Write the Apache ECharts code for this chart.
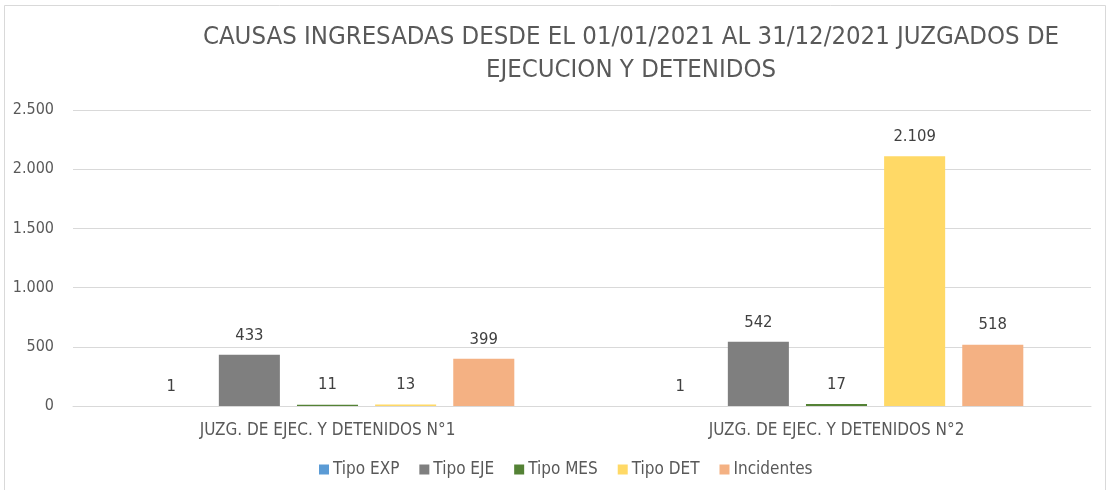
<!DOCTYPE html>
<html>
<head>
<meta charset="utf-8">
<script src="https://cdn.jsdelivr.net/npm/echarts@6/dist/echarts.min.js"></script>
<style>
  html, body { margin: 0; padding: 0; background: #fff; }
  #chart { width: 1113px; height: 490px; }
</style>
</head>
<body>
<div id="chart"></div>
<script>
// Juzgados and case counts per type, year 2021
const categories = ['JUZG. DE EJEC. Y DETENIDOS N°1', 'JUZG. DE EJEC. Y DETENIDOS N°2'];
const tipoEXP = [1, 1];
const tipoEJE = [433, 542];
const tipoMES = [11, 17];
const tipoDET = [13, 2109];
const incidentes = [399, 518];
const yTicks = [0, 500, 1000, 1500, 2000, 2500];

const FONT = '"Liberation Sans Narrow", "Arial Narrow", "DejaVu Sans Condensed", sans-serif';

function fmt(v) {
  return String(v).replace(/\B(?=(\d{3})+(?!\d))/g, '.');
}

const seriesDefs = [
  { name: 'Tipo EXP', data: tipoEXP, color: '#5B9BD5' },
  { name: 'Tipo EJE', data: tipoEJE, color: '#7F7F7F' },
  { name: 'Tipo MES', data: tipoMES, color: '#548235' },
  { name: 'Tipo DET', data: tipoDET, color: '#FFD966' },
  { name: 'Incidentes', data: incidentes, color: '#F4B183' }
];

const chart = echarts.init(document.getElementById('chart'), null, { renderer: 'canvas' });

chart.setOption({
  animation: false,
  backgroundColor: '#ffffff',
  textStyle: { fontFamily: FONT },
  graphic: [{
    type: 'rect',
    shape: { x: 4.5, y: 5.5, width: 1101, height: 500 },
    style: { fill: 'none', stroke: '#d9d9d9', lineWidth: 1 },
    silent: true
  }],
  title: {
    text: 'CAUSAS INGRESADAS DESDE EL 01/01/2021 AL 31/12/2021 JUZGADOS DE\nEJECUCION Y DETENIDOS',
    left: 626,
    textAlign: 'center',
    top: 16,
    textStyle: {
      fontFamily: FONT,
      fontSize: 25.5,
      fontWeight: 'normal',
      color: '#595959',
      lineHeight: 33
    }
  },
  legend: {
    left: 314,
    top: 456,
    itemWidth: 10,
    itemHeight: 10,
    itemGap: 20,
    icon: 'rect',
    textStyle: { fontFamily: FONT, fontSize: 17, color: '#595959', padding: [0, 0, 0, -1] },
    data: seriesDefs.map(s => s.name)
  },
  grid: { left: 73, right: 22, top: 110, bottom: 84 },
  xAxis: {
    type: 'category',
    data: categories,
    axisLine: { lineStyle: { color: '#d9d9d9', width: 1 } },
    axisTick: { show: false },
    axisLabel: { fontFamily: FONT, fontSize: 17, color: '#595959', margin: 16 }
  },
  yAxis: {
    type: 'value',
    min: yTicks[0],
    max: yTicks[yTicks.length - 1],
    interval: yTicks[1] - yTicks[0],
    axisLine: { show: false },
    axisTick: { show: false },
    splitLine: { lineStyle: { color: '#d9d9d9', width: 1 } },
    axisLabel: {
      fontFamily: FONT, fontSize: 16, color: '#595959', margin: 19,
      formatter: v => fmt(v)
    }
  },
  series: seriesDefs.map(s => ({
    name: s.name,
    type: 'bar',
    data: s.data,
    barGap: '28%',
    barCategoryGap: '26.6%',
    itemStyle: { color: s.color },
    label: {
      show: true,
      position: 'top',
      distance: 11,
      fontFamily: FONT,
      fontSize: 16.5,
      color: '#404040',
      formatter: p => fmt(p.value)
    }
  }))
});
</script>
</body>
</html>
